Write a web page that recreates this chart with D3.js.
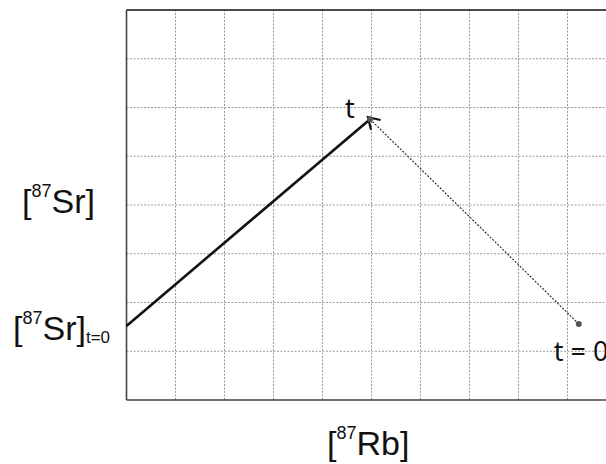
<!DOCTYPE html>
<html>
<head>
<meta charset="utf-8">
<script src="https://d3js.org/d3.v7.min.js"></script>
<style>
  body { margin: 0; background: #fff; }
  svg { display: block; }
</style>
</head>
<body>
<div id="chart"></div>
<script>
// grid ticks in data units
const xTicks = [0, 1, 2, 3, 4, 5, 6, 7, 8, 9, 10];
const yTicks = [0, 1, 2, 3, 4, 5, 6, 7, 8];

// isochron segment (solid) and decay path (dotted arrow)
const isochron = [{x: 0, y: 1.52}, {x: 4.97, y: 5.76}];
const decayPath = [{x: 9.23, y: 1.56}, {x: 4.97, y: 5.76}];
const pointLabels = ["t = 0", "t"];

const W = 606, H = 464;
const margin = {left: 126.5, top: 10, bottom: 64};

const x = d3.scaleLinear().domain([0, 10]).range([margin.left, margin.left + 490]);
const y = d3.scaleLinear().domain([0, 8]).range([H - margin.bottom, margin.top]);

const svg = d3.select("#chart").append("svg")
  .attr("width", W).attr("height", H);

// grid
svg.append("g").selectAll("line").data(xTicks.slice(1)).join("line")
  .attr("x1", d => x(d)).attr("x2", d => x(d))
  .attr("y1", y(0)).attr("y2", y(8))
  .attr("stroke", "#999").attr("stroke-width", 1).attr("stroke-dasharray", "2,1.5");
svg.append("g").selectAll("line").data(yTicks.slice(1, -1)).join("line")
  .attr("x1", x(0)).attr("x2", W)
  .attr("y1", d => y(d)).attr("y2", d => y(d))
  .attr("stroke", "#999").attr("stroke-width", 1).attr("stroke-dasharray", "2,1.5");

// frame
svg.append("line").attr("x1", x(0)).attr("x2", W).attr("y1", y(8)).attr("y2", y(8))
  .attr("stroke", "#111").attr("stroke-width", 1.6);
svg.append("line").attr("x1", x(0)).attr("x2", W).attr("y1", y(0)).attr("y2", y(0))
  .attr("stroke", "#444").attr("stroke-width", 1.6);
svg.append("line").attr("x1", x(0)).attr("x2", x(0)).attr("y1", y(0)).attr("y2", y(8))
  .attr("stroke", "#444").attr("stroke-width", 1.6);

const line = d3.line().x(d => x(d.x)).y(d => y(d.y));

svg.append("path").datum(isochron).attr("d", line)
  .attr("fill", "none").attr("stroke", "#111").attr("stroke-width", 2.6);

svg.append("path").datum(decayPath).attr("d", line)
  .attr("fill", "none").attr("stroke", "#222").attr("stroke-width", 1.1)
  .attr("stroke-dasharray", "2,1.5");

// arrow head at t
const p0 = decayPath[0], p1 = decayPath[1];
const ang = Math.atan2(y(p1.y) - y(p0.y), x(p1.x) - x(p0.x));
const tip = [x(p1.x) + 3 * Math.cos(ang), y(p1.y) + 3 * Math.sin(ang)];
const L = 13, spread = 0.55;
svg.append("path")
  .attr("d", `M${tip[0] - L * Math.cos(ang - spread)},${tip[1] - L * Math.sin(ang - spread)}L${tip[0]},${tip[1]}L${tip[0] - L * Math.cos(ang + spread)},${tip[1] - L * Math.sin(ang + spread)}`)
  .attr("fill", "none").attr("stroke", "#111").attr("stroke-width", 2.2);

// points
svg.selectAll("circle.pt").data(decayPath).join("circle")
  .attr("class", "pt")
  .attr("cx", d => x(d.x)).attr("cy", d => y(d.y)).attr("r", 3)
  .attr("fill", "#555");

// point labels
svg.append("text").attr("x", x(p1.x) - 25).attr("y", y(p1.y) - 1)
  .attr("font-family", "Noto Sans, sans-serif").attr("font-size", 27).attr("fill", "#111")
  .text(pointLabels[1]);
svg.append("text").attr("x", x(p0.x) - 25).attr("y", y(p0.y) + 37)
  .attr("font-family", "Noto Sans, sans-serif").attr("font-size", 27).attr("fill", "#111")
  .text(pointLabels[0]);

// axis labels
const font = "Liberation Sans, Arial, sans-serif";
function bracketLabel(tx, ty, sym, sub) {
  const t = svg.append("text").attr("x", tx).attr("y", ty)
    .attr("font-family", font).attr("font-size", 34).attr("fill", "#111");
  t.append("tspan").text("[");
  t.append("tspan").attr("font-size", 18).attr("dy", -16).text("87");
  t.append("tspan").attr("dy", 16).text(sym + "]");
  if (sub) t.append("tspan").attr("font-size", 17).attr("dy", 3).text(sub);
}
bracketLabel(22, 213, "Sr");
bracketLabel(13, 340, "Sr", "t=0");
bracketLabel(327, 455, "Rb");
</script>
</body>
</html>
